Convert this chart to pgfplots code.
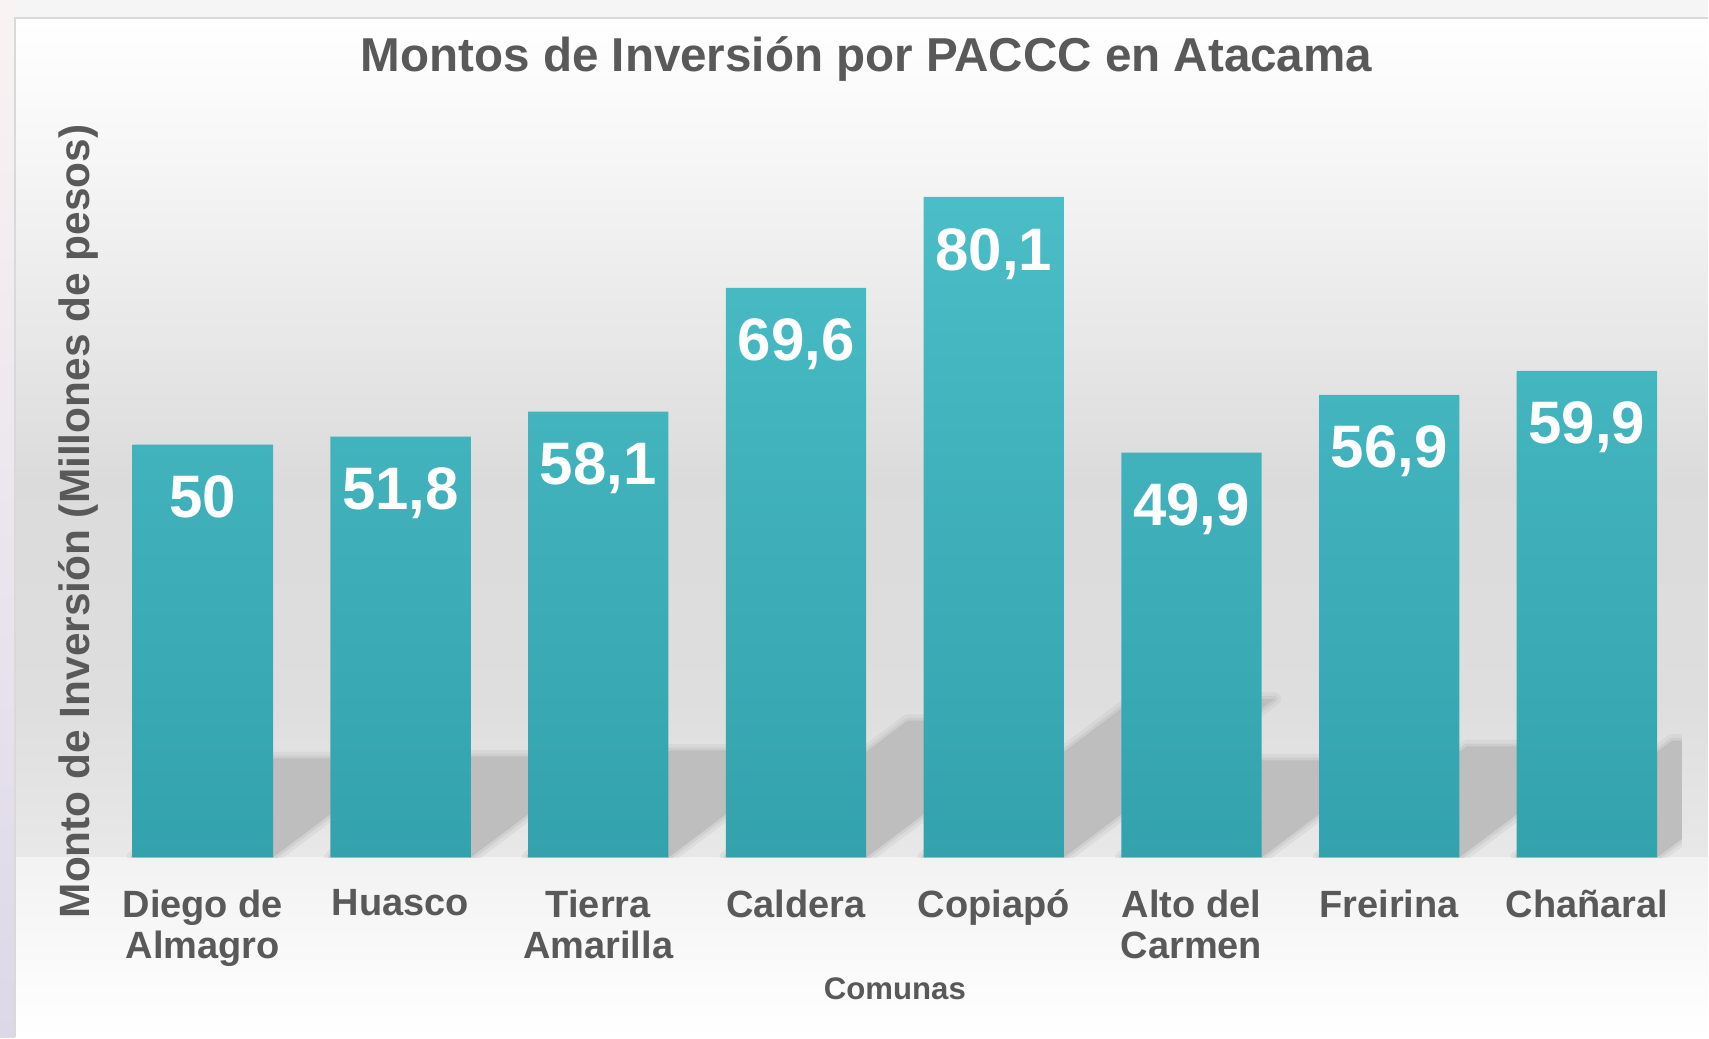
\documentclass[border=0pt]{standalone}
\usepackage{pgfplots}
\usepackage{pgfplotstable}
\pgfplotsset{compat=1.18}
\usepackage{fontspec}
\setmainfont{Liberation Sans}

\definecolor{txtgray}{HTML}{595959}
\definecolor{bartop}{HTML}{4ABDC6}
\definecolor{barbot}{HTML}{33A2AC}
\definecolor{shadowgray}{HTML}{BEBEBE}
\definecolor{edgetop}{HTML}{FAF3F3}
\definecolor{edgemid}{HTML}{F3DDE8}
\definecolor{edgebot}{HTML}{DCD8E8}

% x = position, y = bar height as drawn, lab = printed value
\pgfplotstableread{
x y lab
0 50.06 50
1 51.03 51.8
2 54.06 58.1
3 69.09 69.6
4 80.12 80.1
5 49.09 49.9
6 56.12 56.9
7 59.03 59.9
}\bardata

\begin{document}
\begin{tikzpicture}[x=1pt,y=1pt]
% page (1 px = 0.25pt, origin at lower left of the plot area)
\shade[top color=edgetop, middle color=edgemid, bottom color=edgebot] (-27,-45) rectangle (-23.25,214.5);
\fill[white!96!black] (-23.25,210) rectangle (400.25,214.5);
\shade[top color=white, bottom color=white!97!black] (-23.25,210) rectangle (400.25,179.5);
\shade[top color=white!97!black, bottom color=white!92!black] (-23.25,179.5) rectangle (400.25,139.5);
\shade[top color=white!92!black, bottom color=white!86!black] (-23.25,139.5) rectangle (400.25,94.5);
\shade[top color=white!86!black, bottom color=white!87!black] (-23.25,94.5) rectangle (400.25,39.5);
\shade[top color=white!87!black, bottom color=white!91!black] (-23.25,39.5) rectangle (400.25,0);
\shade[top color=white!95!black, bottom color=white] (-23.25,0) rectangle (400.25,-45);
\draw[white!85!black, line width=0.6pt] (-23.25,-45) -- (-23.25,210) -- (400.25,210);

\begin{axis}[
    at={(0,0)}, anchor=south west,
    scale only axis,
    width=393.75pt, height=181.5pt,
    xmin=-0.48, xmax=7.48,
    ymin=0, ymax=88,
    ybar, bar width=0.71,
    axis line style={draw=none},
    major tick length=0pt,
    ytick=\empty,
    xtick=data,
    xticklabels={{Diego de\\Almagro},{Huasco},{Tierra\\Amarilla},{Caldera},{Copiap\'o},{Alto del\\Carmen},{Freirina},{Cha\~naral}},
    xticklabel style={anchor=north, align=center, inner sep=0pt, yshift=-7.9pt,
        font=\fontsize{9.5}{10.25}\selectfont\bfseries, text=txtgray},
    title={Montos de Inversi\'on por PACCC en Atacama},
    every axis title/.style={at={(axis description cs:0.5,1)}, anchor=base, yshift=15pt, xshift=-7.1pt,
        font=\fontsize{11.9}{14}\selectfont\bfseries, text=txtgray, inner sep=0pt},
    xlabel={Comunas},
    every axis x label/.style={at={(axis description cs:0.5,0)}, anchor=base, yshift=-35.5pt,
        font=\fontsize{7.8}{9}\selectfont\bfseries, text=txtgray, inner sep=0pt},
    ylabel={Monto de Inversi\'on (Millones de pesos)},
    every axis y label/.style={at={(axis description cs:-0.019,0.463)}, anchor=center, rotate=90,
        font=\fontsize{10.6}{12}\selectfont\bfseries, text=txtgray, inner sep=0pt},
    point meta=explicit,
    nodes near coords,
    every node near coord/.append style={anchor=base, yshift=-18.3pt, text=white,
        font=\fontsize{15}{17}\selectfont\bfseries, inner sep=0pt},
    /pgf/number format/.cd, use comma, fixed, precision=1, assume math mode=true,
]
% slanted soft drop shadows behind the bars
\pgfplotsinvokeforeach{0,1,2,3,4,5,6,7}{
    \pgfplotstablegetelem{#1}{y}\of\bardata
    \edef\shadowcmd{\noexpand\path[shadowgray, line join=round]
        (axis cs:#1-0.355,0) -- (axis cs:#1+0.355,0)
        -- (axis cs:#1+0.355+0.0133*\pgfplotsretval,0.24*\pgfplotsretval)
        -- (axis cs:#1-0.355+0.0133*\pgfplotsretval,0.24*\pgfplotsretval) -- cycle
        [draw opacity=0.25, line width=3.2pt, draw=shadowgray] ;}
    \shadowcmd
    \edef\shadowcmd{\noexpand\path[fill=shadowgray, draw=shadowgray, draw opacity=0.4, line width=1.4pt, line join=round]
        (axis cs:#1-0.355,0) -- (axis cs:#1+0.355,0)
        -- (axis cs:#1+0.355+0.0133*\pgfplotsretval,0.24*\pgfplotsretval)
        -- (axis cs:#1-0.355+0.0133*\pgfplotsretval,0.24*\pgfplotsretval) -- cycle;}
    \shadowcmd
}
\addplot[draw=none, top color=bartop, bottom color=barbot] table[x=x, y=y, meta=lab] {\bardata};
\end{axis}
\end{tikzpicture}
\end{document}
